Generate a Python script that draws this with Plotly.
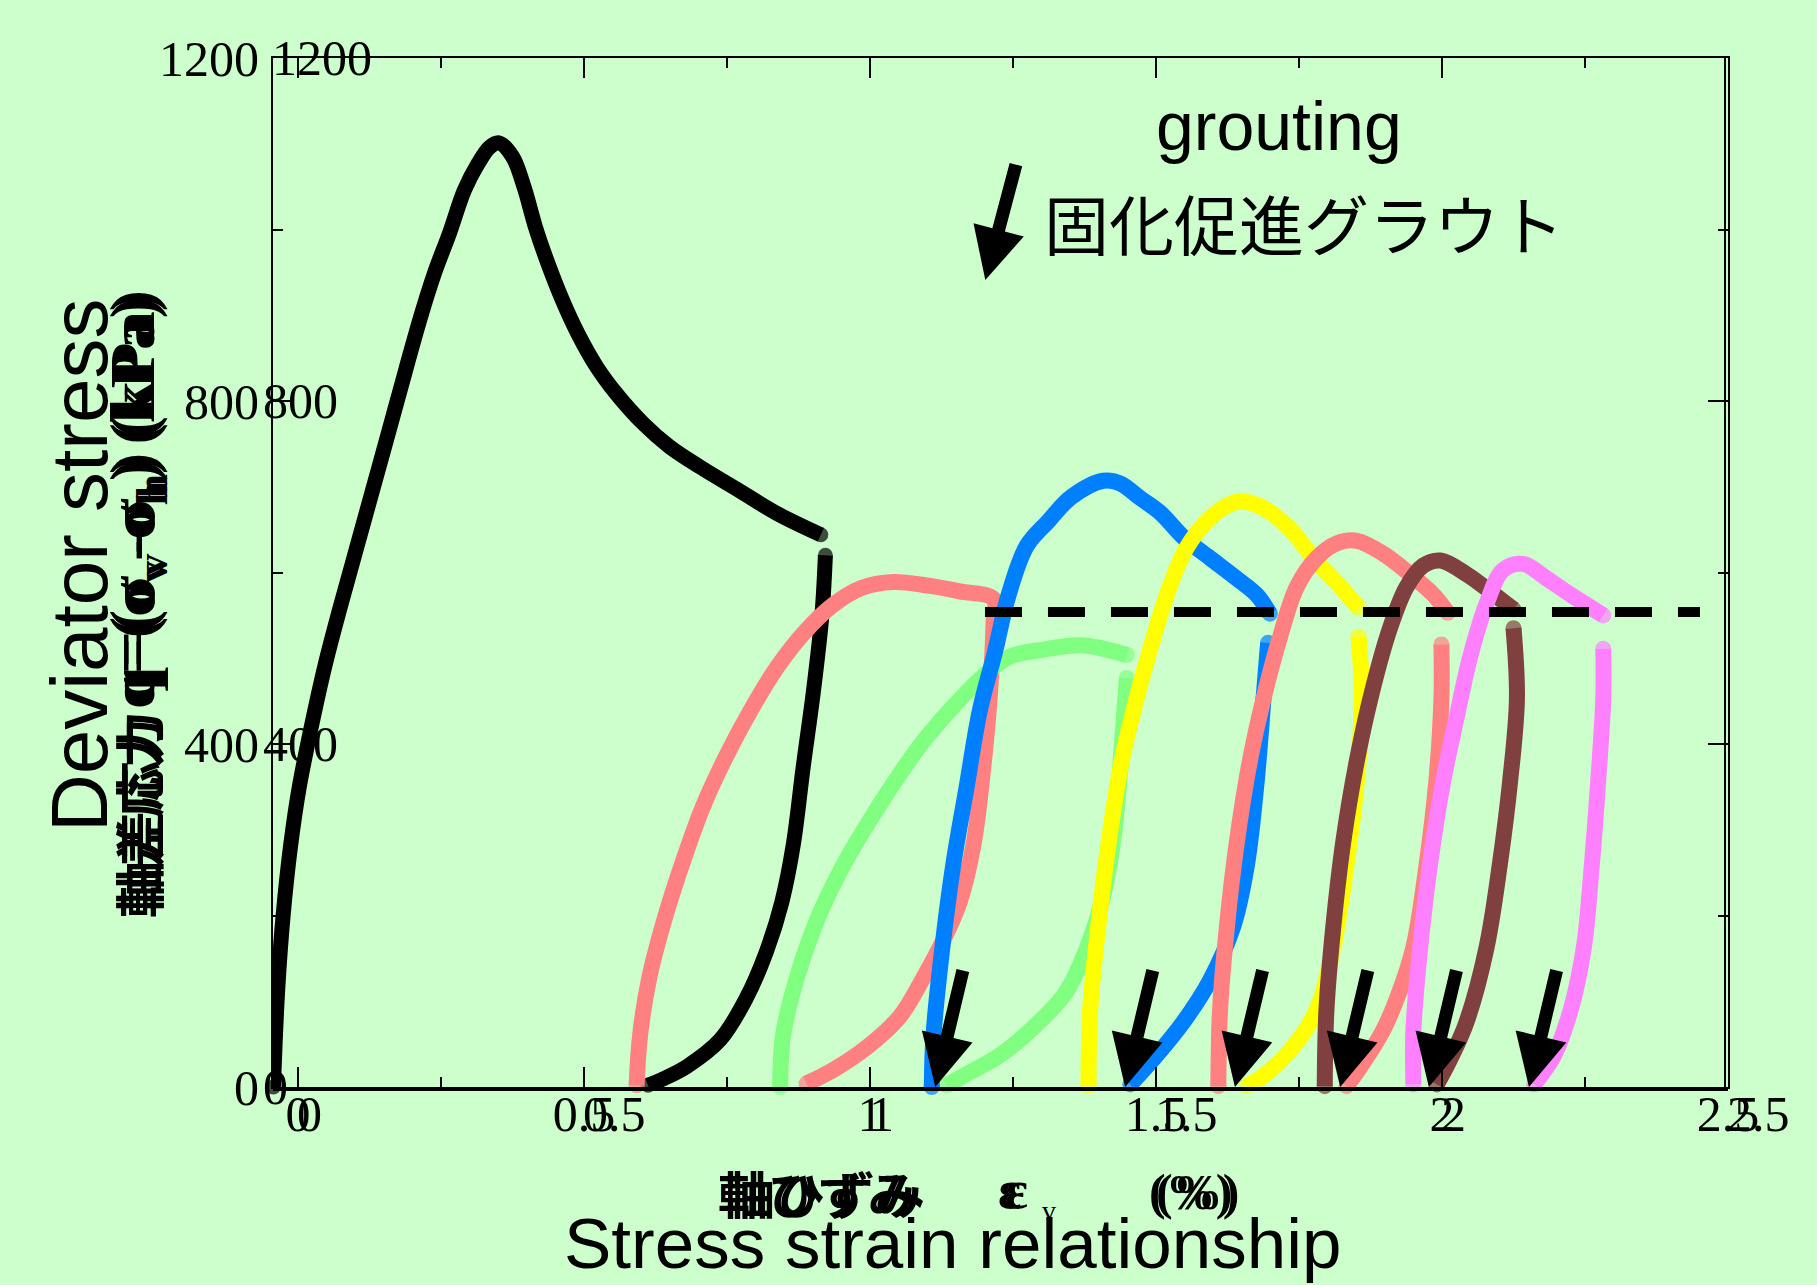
import plotly.graph_objects as go

# ---------------- data (strain %, deviator stress kPa) ----------------
black_load_x = [-0.043, -0.040, -0.035, -0.026, -0.013, 0.002, 0.022, 0.047, 0.074, 0.103, 0.132,
                0.161, 0.189, 0.213, 0.238, 0.265, 0.291, 0.315, 0.335, 0.351, 0.375, 0.395, 0.415,
                0.435, 0.462, 0.489, 0.522, 0.556, 0.603, 0.649, 0.703, 0.770, 0.837, 0.914]
black_load_y = [0, 51, 119, 200, 281, 349, 416, 491, 560, 630, 700, 770, 838, 895, 948, 996, 1046,
                1077, 1096, 1101, 1085, 1050, 1003, 964, 918, 879, 840, 809, 774, 747, 723, 696, 669, 644]
black_unload_x = [0.922, 0.916, 0.901, 0.883, 0.866, 0.846, 0.819, 0.784, 0.738, 0.680, 0.640, 0.612]
black_unload_y = [620, 551, 461, 372, 283, 216, 158, 104, 55, 24, 10, 2]

salmon1_x = [0.592, 0.598, 0.614, 0.640, 0.672, 0.708, 0.748, 0.792, 0.838, 0.885, 0.935, 0.985,
             1.041, 1.099, 1.157, 1.216, 1.216, 1.210, 1.198, 1.181, 1.157, 1.128, 1.093,
             1.052, 0.994, 0.936, 0.889]
salmon1_y = [2, 60, 127, 194, 261, 327, 385, 440, 490, 530, 562, 582, 589, 585, 578, 569, 542,
             461, 372, 283, 216, 171, 127, 82, 46, 20, 4]

green_up_x = [0.843, 0.848, 0.872, 0.907, 0.948, 0.994, 1.041, 1.093, 1.146, 1.198, 1.245, 1.303, 1.373, 1.449]
green_up_y = [0, 60, 127, 194, 252, 305, 354, 403, 444, 479, 502, 510, 515, 504]
green_dn_x = [1.449, 1.441, 1.429, 1.412, 1.382, 1.342, 1.285, 1.227, 1.169, 1.134]
green_dn_y = [477, 405, 308, 235, 167, 110, 69, 37, 15, 2]

blue_up_x = [1.108, 1.111, 1.128, 1.146, 1.169, 1.192, 1.218, 1.242, 1.274, 1.312, 1.352, 1.408,
             1.437, 1.472, 1.507, 1.548, 1.594, 1.641, 1.676, 1.699]
blue_up_y = [0, 60, 171, 261, 350, 439, 506, 573, 631, 660, 688, 707, 704, 687, 670, 641, 617, 593, 574, 552]
blue_dn_x = [1.696, 1.688, 1.676, 1.659, 1.635, 1.594, 1.548, 1.501, 1.455]
blue_dn_y = [518, 453, 356, 259, 187, 124, 76, 37, 3]

yellow_up_x = [1.382, 1.385, 1.399, 1.417, 1.440, 1.466, 1.490, 1.519, 1.548, 1.577, 1.612, 1.647,
               1.688, 1.734, 1.775, 1.816, 1.854]
yellow_up_y = [1, 90, 187, 284, 380, 453, 511, 574, 622, 651, 673, 683, 675, 651, 617, 588, 559]
yellow_dn_x = [1.854, 1.860, 1.851, 1.833, 1.810, 1.781, 1.734, 1.688, 1.659]
yellow_dn_y = [525, 453, 356, 259, 163, 90, 42, 13, 1]

salmon2_up_x = [1.609, 1.612, 1.624, 1.641, 1.664, 1.688, 1.717, 1.746, 1.781, 1.816, 1.851, 1.897,
                1.944, 1.985, 2.010]
salmon2_up_y = [1, 90, 187, 284, 380, 453, 525, 583, 617, 634, 637, 622, 598, 574, 553]
salmon2_dn_x = [1.999, 1.999, 1.990, 1.973, 1.950, 1.925, 1.897, 1.857, 1.833]
salmon2_dn_y = [516, 453, 356, 259, 163, 110, 66, 23, 1]

brown_up_x = [1.795, 1.798, 1.810, 1.827, 1.851, 1.880, 1.909, 1.938, 1.967, 1.997, 2.043, 2.084, 2.125]
brown_up_y = [1, 90, 187, 284, 380, 467, 535, 583, 608, 614, 598, 578, 557]
brown_dn_x = [2.125, 2.131, 2.119, 2.101, 2.078, 2.043, 2.014, 1.991]
brown_dn_y = [535, 453, 356, 259, 163, 76, 32, 3]

magenta_up_x = [1.950, 1.950, 1.962, 1.979, 2.002, 2.025, 2.049, 2.078, 2.107, 2.142, 2.183, 2.225, 2.282]
magenta_up_y = [3, 66, 163, 259, 356, 429, 501, 564, 603, 610, 593, 574, 550]
magenta_dn_x = [2.282, 2.282, 2.273, 2.262, 2.248, 2.225, 2.196, 2.161]
magenta_dn_y = [511, 453, 356, 259, 163, 90, 37, 3]

dash_x = [1.201, 2.451]
dash_y = [554, 554]

arrow_tip_x = [1.114, 1.446, 1.638, 1.822, 1.977, 2.152]
arrow_tip_y = [0, 0, 0, 0, 0, 0]
big_arrow_x = 1.2016
big_arrow_y = 941

x_tick_vals = [0, 0.5, 1, 1.5, 2, 2.5]
x_tick_text = ["0", "0.5", "1", "1.5", "2", "2.5"]
x_minor_vals = [0.25, 0.75, 1.25, 1.75, 2.25]
y_tick_vals = [0, 400, 800, 1200]
y_tick_text = ["0", "400", "800", "1200"]
y_minor_vals = [200, 600, 1000]

# ---------------- layout geometry ----------------
W, H = 1817, 1285
L, R, T, B = 273, 89, 58, 198
PW, PH = W - L - R, H - T - B
BG = "#CCFFCC"
SERIF = "Liberation Serif"
SANS = "Liberation Sans"
CJK = "Noto Sans CJK JP"


def px_x(p):
    return (p - L) / PW


def px_y(p):
    return (H - B - p) / PH


fig = go.Figure()


def add_curve(xs, ys, color, width):
    n = len(xs)
    sizes = [width] + [0] * (n - 2) + [width]
    fig.add_trace(go.Scatter(
        x=xs, y=ys, mode="lines+markers",
        line=dict(color=color, width=width, shape="spline", smoothing=1.0),
        marker=dict(size=sizes, color=color, line=dict(width=0)),
        cliponaxis=False, hoverinfo="skip", showlegend=False))


add_curve(black_load_x, black_load_y, "#000000", 15)
add_curve(black_unload_x, black_unload_y, "#000000", 15)
add_curve(salmon1_x, salmon1_y, "#FF8080", 16)
add_curve(green_up_x, green_up_y, "#80FF80", 16)
add_curve(green_dn_x, green_dn_y, "#80FF80", 16)
add_curve(blue_up_x, blue_up_y, "#0080FF", 16)
add_curve(blue_dn_x, blue_dn_y, "#0080FF", 16)
add_curve(yellow_up_x, yellow_up_y, "#FFFF00", 16)
add_curve(yellow_dn_x, yellow_dn_y, "#FFFF00", 16)
add_curve(salmon2_up_x, salmon2_up_y, "#FF8080", 16)
add_curve(salmon2_dn_x, salmon2_dn_y, "#FF8080", 16)
add_curve(brown_up_x, brown_up_y, "#804040", 16)
add_curve(brown_dn_x, brown_dn_y, "#804040", 16)
add_curve(magenta_up_x, magenta_up_y, "#FF80FF", 16)
add_curve(magenta_dn_x, magenta_dn_y, "#FF80FF", 16)

fig.add_trace(go.Scatter(x=dash_x, y=dash_y, mode="lines",
                         line=dict(color="black", width=10, dash="37px,26px"),
                         hoverinfo="skip", showlegend=False))

annotations = []
# grouting arrows
for xt, yt in zip(arrow_tip_x, arrow_tip_y):
    annotations.append(dict(x=xt, y=yt, xref="x", yref="y", ax=28, ay=-118, text="",
                            showarrow=True, arrowhead=2, arrowsize=0.8, arrowwidth=13,
                            arrowcolor="black", standoff=0))
annotations.append(dict(x=big_arrow_x, y=big_arrow_y, xref="x", yref="y", ax=31, ay=-117, text="",
                        showarrow=True, arrowhead=2, arrowsize=0.8, arrowwidth=13,
                        arrowcolor="black", standoff=0))

# doubled tick labels (second copy)
for v, t in zip(x_tick_vals, x_tick_text):
    annotations.append(dict(x=v, y=0, xref="x", yref="y", text=t, showarrow=False,
                            xanchor="left", yanchor="top", xshift=-3, yshift=3,
                            font=dict(family=SERIF, size=50, color="black")))
for v, t in zip(y_tick_vals, y_tick_text):
    annotations.append(dict(x=0, y=v, xref="paper", yref="y", text=t, showarrow=False,
                            xanchor="left", yanchor="middle", xshift=(-3 if v == 1200 else -12),
                            font=dict(family=SERIF, size=50, color="black")))

# texts
annotations += [
    dict(x=px_x(1279), y=px_y(86), xref="paper", yref="paper", text="grouting", showarrow=False,
         xanchor="center", yanchor="top", font=dict(family=SANS, size=68, color="black")),
    dict(x=px_x(1304), y=px_y(222), xref="paper", yref="paper", text="固化促進グラウト", showarrow=False,
         xanchor="center", yanchor="middle", font=dict(family=CJK, size=65, color="black")),
    dict(x=px_x(79), y=px_y(566), xref="paper", yref="paper", text="Deviator stress", showarrow=False,
         textangle=-90, xanchor="center", yanchor="middle", font=dict(family=SANS, size=80, color="black")),
    dict(x=px_x(952), y=px_y(1202), xref="paper", yref="paper", text="Stress strain relationship",
         showarrow=False, xanchor="center", yanchor="top", font=dict(family=SANS, size=71, color="black")),
]
# doubled Japanese axis titles
for d in (0, 7):
    annotations += [
        dict(x=px_x(137), y=px_y(818 - d), xref="paper", yref="paper", text="<b>軸差応力</b>",
             showarrow=False, textangle=-90, xanchor="center", yanchor="middle",
             font=dict(family=CJK, size=50, color="black")),
        dict(x=px_x(137), y=px_y(503 - d), xref="paper", yref="paper",
             text="<b>q=(σ<sub>v</sub>-σ<sub>h</sub>) (kPa)</b>",
             showarrow=False, textangle=-90, xanchor="center", yanchor="middle",
             font=dict(family=SERIF, size=63, color="black")),
        dict(x=px_x(818 + d), y=px_y(1192), xref="paper", yref="paper", text="<b>軸ひずみ</b>",
             showarrow=False, xanchor="center", yanchor="middle",
             font=dict(family=CJK, size=50, color="black")),
        dict(x=px_x(1009 + d), y=px_y(1190), xref="paper", yref="paper", text="<b>ε</b>",
             showarrow=False, xanchor="center", yanchor="middle",
             font=dict(family=SERIF, size=54, color="black")),
        dict(x=px_x(1190 + d), y=px_y(1192), xref="paper", yref="paper", text="<b>(%)</b>",
             showarrow=False, xanchor="center", yanchor="middle",
             font=dict(family=SERIF, size=50, color="black")),
    ]
annotations.append(dict(x=px_x(1049), y=px_y(1210), xref="paper", yref="paper", text="v",
                        showarrow=False, xanchor="center", yanchor="middle",
                        font=dict(family=SERIF, size=28, color="black")))

shapes = [
    dict(type="line", xref="paper", yref="paper", x0=0, x1=1, y0=-3 / PH, y1=-3 / PH,
         line=dict(color="black", width=2)),
    dict(type="line", xref="paper", yref="paper", x0=1 - 3 / PW, x1=1 - 3 / PW, y0=0, y1=1,
         line=dict(color="black", width=2)),
]

axis_common = dict(ticks="inside", tickwidth=2, tickcolor="black", mirror="allticks",
                   showline=True, linecolor="black", linewidth=2, showgrid=False, zeroline=False,
                   tickfont=dict(family=SERIF, size=50, color="black"))

fig.update_layout(
    width=W, height=H, margin=dict(l=L, r=R, t=T, b=B, pad=0),
    paper_bgcolor=BG, plot_bgcolor=BG, showlegend=False,
    xaxis=dict(range=[-0.0437, 2.5], tickmode="array", tickvals=x_tick_vals, ticktext=x_tick_text,
               ticklen=20, ticklabelstandoff=-18,
               minor=dict(tickmode="array", tickvals=x_minor_vals, ticks="inside", ticklen=10,
                          tickwidth=2, tickcolor="black"),
               **axis_common),
    yaxis=dict(range=[0, 1200], tickmode="array", tickvals=y_tick_vals, ticktext=y_tick_text,
               ticklen=20, ticklabelstandoff=2,
               minor=dict(tickmode="array", tickvals=y_minor_vals, ticks="inside", ticklen=10,
                          tickwidth=2, tickcolor="black"),
               **axis_common),
    annotations=annotations, shapes=shapes,
)

fig.write_html("out.html", config={"displayModeBar": False},
               post_script="document.body.style.margin='0';document.body.style.overflow='hidden';")
